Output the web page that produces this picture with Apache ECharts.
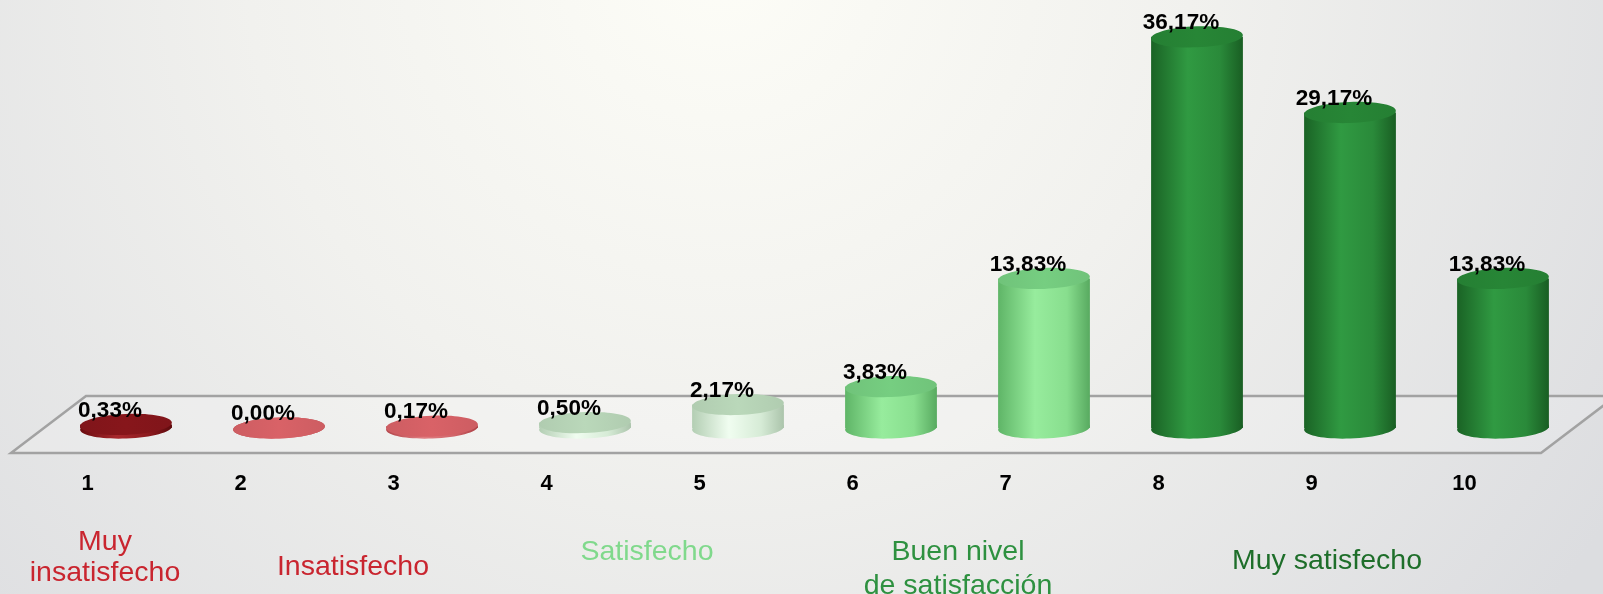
<!DOCTYPE html>
<html>
<head>
<meta charset="utf-8">
<script src="https://cdn.jsdelivr.net/npm/echarts@6/dist/echarts.min.js"></script>
<style>
  html, body { margin: 0; padding: 0; }
  #chart { width: 1603px; height: 594px; }
</style>
</head>
<body>
<div id="chart"></div>
<script>
// data
const categories = ["1", "2", "3", "4", "5", "6", "7", "8", "9", "10"];
const values = [0.33, 0.0, 0.17, 0.5, 2.17, 3.83, 13.83, 36.17, 29.17, 13.83];
const groupLabels = ["Muy\ninsatisfecho", "Insatisfecho", "Satisfecho", "Buen nivel\nde satisfacción", "Muy satisfecho"];

// styles
const FONT = "'Liberation Sans', Arial, sans-serif";
const red = { body: ["#6a0c0f", "#a8282d", "#8c1a1e", "#5e0a0d"], top: "#80151a" };
const pink = { body: ["#b4464b", "#e07d81", "#d06368", "#ad4146"], top: "#cd5d62" };
const pale = { body: ["#b3ceb3", "#f0fdf0", "#d6ebd6", "#abc4ab"], top: "#b0ccb0" };
const light = { body: ["#5fb567", "#97ec9d", "#88de8e", "#58aa60"], top: "#70c37a" };
const green = { body: ["#1a6325", "#309a42", "#2a8a3a", "#195e23"], top: "#257f33" };
const barPalette = [red, pink, pink, pale, pale, light, light, green, green, green];
const groupStyles = [
  { color: "#c9252f", x: 105, y: 527, lh: 31 },
  { color: "#c9252f", x: 353, y: 552, lh: 31 },
  { color: "#80d98c", x: 647, y: 537, lh: 31 },
  { color: "#2e9140", x: 958, y: 535, lh: 34 },
  { color: "#1e6e2a", x: 1327, y: 546, lh: 31 },
];

const SHIFT = 38.5;   // bars stand back from the front edge of the floor
const RY = 10.5;      // ellipse half height
const TILT = 0.04;

function fmt(v) {
  return v.toFixed(2).replace(".", ",") + "%";
}

const dom = document.getElementById("chart");
const myChart = echarts.init(dom);

const option = {
  animation: false,
  graphic: [
    {
      type: "rect",
      z: -100,
      silent: true,
      shape: { x: 0, y: 0, width: myChart.getWidth(), height: myChart.getHeight() },
      style: {
        fill: {
          type: "radial", x: 720, y: -40, r: 1050, global: true,
          colorStops: [
            { offset: 0, color: "#fdfdf7" },
            { offset: 0.45, color: "#f1f1ee" },
            { offset: 1, color: "#dcdde0" },
          ],
        },
      },
    },
  ].concat(groupLabels.map((t, i) => ({
    type: "text",
    z: 10,
    x: groupStyles[i].x,
    y: groupStyles[i].y,
    style: {
      text: t,
      fill: groupStyles[i].color,
      font: "28.5px " + FONT,
      align: "center",
      verticalAlign: "top",
      lineHeight: groupStyles[i].lh,
    },
  }))),
  grid: { left: 11, right: 62, top: 17, bottom: 166 },
  xAxis: {
    type: "category",
    data: categories,
    axisLine: { show: false },
    axisTick: { show: false },
    axisLabel: {
      margin: 45,
      color: "#000",
      fontSize: 22,
      fontWeight: "bold",
      fontFamily: FONT,
    },
  },
  yAxis: {
    type: "value",
    min: 0,
    max: 38,
    show: false,
    splitLine: { show: false },
  },
  series: [
    {
      // floor
      type: "custom",
      z: 1,
      silent: true,
      clip: false,
      data: [[0, 0]],
      renderItem: function (params, api) {
        const cs = params.coordSys;
        const y0 = cs.y + cs.height;
        return {
          type: "polygon",
          shape: {
            points: [
              [cs.x, y0 + 25],
              [cs.x + cs.width, y0 + 25],
              [cs.x + cs.width + 75, y0 - 32],
              [cs.x + 75, y0 - 32],
            ],
          },
          style: { fill: "rgba(255,255,255,0.18)", stroke: "#a2a2a2", lineWidth: 2.5 },
        };
      },
    },
    {
      type: "custom",
      z: 2,
      clip: false,
      data: values.map((v, i) => [i, v]),
      renderItem: function (params, api) {
        const i = api.value(0);
        const top = api.coord([i, api.value(1)]);
        const base = api.coord([i, 0]);
        const rx = api.size([1, 0])[0] * 0.3;
        const cx = top[0] + SHIFT;
        const pal = barPalette[params.dataIndex];
        const grad = new echarts.graphic.LinearGradient(0, 0, 1, 0, [
          { offset: 0, color: pal.body[0] },
          { offset: 0.4, color: pal.body[1] },
          { offset: 0.75, color: pal.body[2] },
          { offset: 1, color: pal.body[3] },
        ]);
        const topGrad = new echarts.graphic.LinearGradient(0, 0, 1, 0, [
          { offset: 0, color: pal.top },
          { offset: 0.5, color: echarts.color.lift(pal.top, -0.06) },
          { offset: 1, color: pal.top },
        ]);
        return {
          type: "group",
          children: [
            {
              type: "ellipse",
              shape: { cx: cx, cy: base[1], rx: rx, ry: RY },
              rotation: TILT,
              originX: cx,
              originY: base[1],
              style: { fill: grad },
            },
            {
              type: "rect",
              shape: { x: cx - rx, y: top[1], width: rx * 2, height: Math.max(0, base[1] - top[1]) },
              style: { fill: grad },
            },
            {
              type: "ellipse",
              shape: { cx: cx, cy: top[1], rx: rx, ry: RY },
              rotation: TILT,
              originX: cx,
              originY: top[1],
              style: { fill: topGrad },
            },
            {
              type: "text",
              x: cx - 16,
              y: top[1] - 14,
              z2: 10,
              style: {
                text: fmt(api.value(1)),
                fill: "#000",
                font: "bold 22.5px " + FONT,
                align: "center",
                verticalAlign: "middle",
              },
            },
          ],
        };
      },
    },
  ],
};

myChart.setOption(option);
</script>
</body>
</html>
